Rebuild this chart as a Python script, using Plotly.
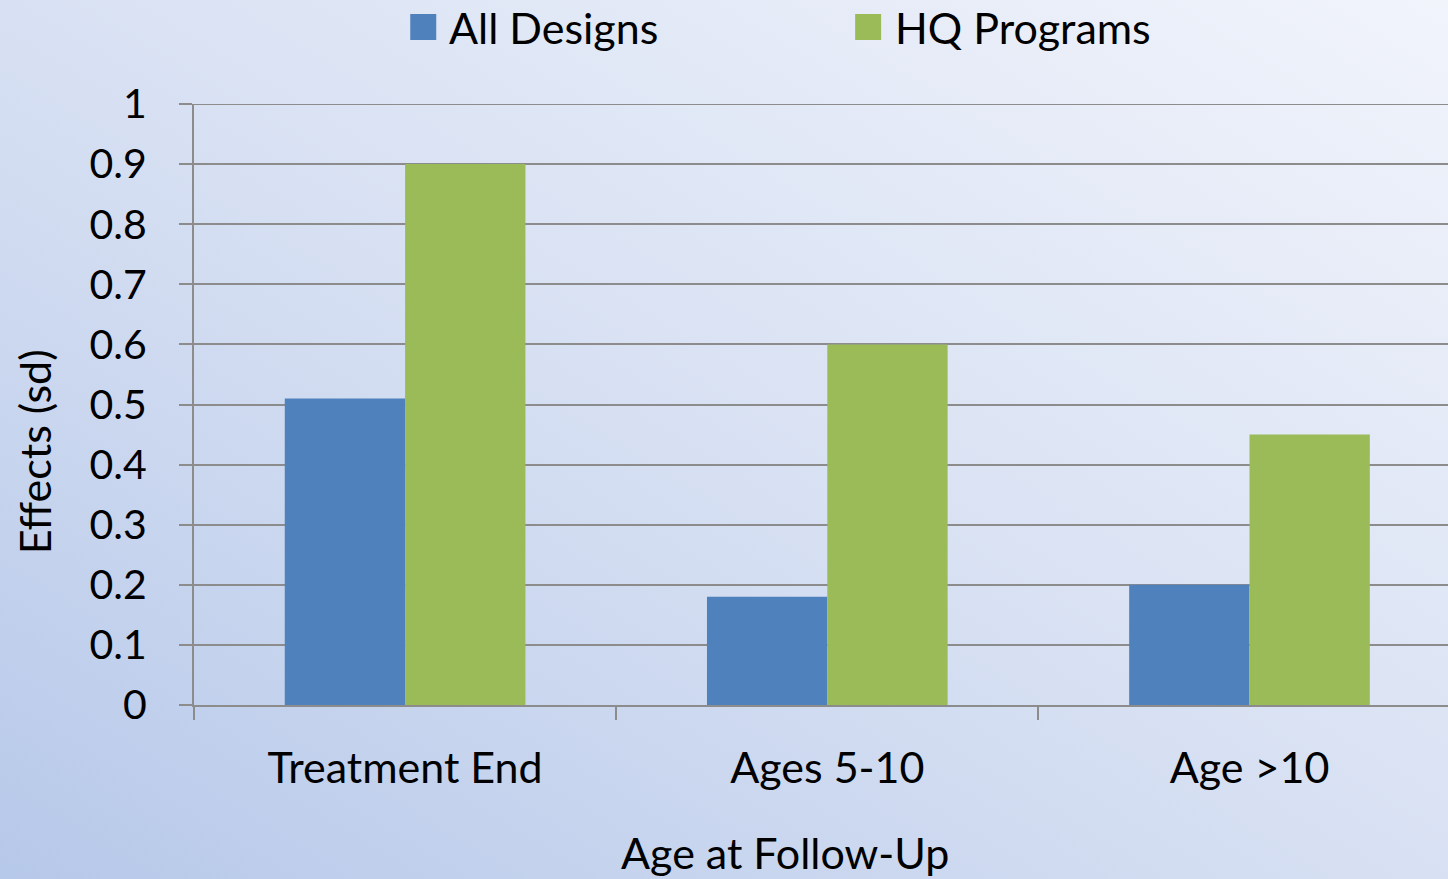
import base64
import plotly.graph_objects as go

# Data
categories = ["Treatment End", "Ages 5-10", "Age >10"]
all_designs = [0.51, 0.18, 0.20]
hq_programs = [0.90, 0.60, 0.45]
series_names = ["All Designs", "HQ Programs"]
series_colors = ["#4F81BD", "#9BBB59"]

W, H = 1448, 879
L, T, B = 193.7, 104, 174  # plot area margins in px
plot_w = W - L
plot_h = H - T - B
cat_w = 422.3  # width of one category slot in px

FONT = "Lato"
FS = 43
FS_TICK = 41
GRID = "#8C8C8C"


def px_x(x):
    return (x - L) / plot_w


def px_y(y):
    return (H - B - y) / plot_h


fig = go.Figure()
for name, vals, col in zip(series_names, [all_designs, hq_programs], series_colors):
    fig.add_trace(go.Bar(x=categories, y=vals, name=name, marker_color=col,
                         marker_line_width=0, showlegend=False))

# soft diagonal background wash
svg = (
    f"<svg xmlns='http://www.w3.org/2000/svg' width='{W}' height='{H}' preserveAspectRatio='none'>"
    "<defs><linearGradient id='g' x1='0' y1='1' x2='1' y2='0'>"
    "<stop offset='0' stop-color='#B6C8E9'/>"
    "<stop offset='0.5' stop-color='#D8E1F3'/>"
    "<stop offset='1' stop-color='#F1F4FB'/>"
    "</linearGradient></defs>"
    f"<rect width='{W}' height='{H}' fill='url(#g)'/></svg>"
)
src = "data:image/svg+xml;base64," + base64.b64encode(svg.encode()).decode()

txt = dict(family=FONT, size=FS, color="black")

shapes = [
    # gridline at the top of the value range
    dict(type="line", xref="paper", yref="y", x0=px_x(180), x1=1, y0=1, y1=1,
         line=dict(color=GRID, width=2)),
]
annotations = []

# legend drawn as boxes + labels across the top
legend_items = [(410, 447), (855, 893)]
for (sx, tx), name, col in zip(legend_items, series_names, series_colors):
    shapes.append(dict(type="rect", xref="paper", yref="paper",
                       x0=px_x(sx), x1=px_x(sx + 26), y0=px_y(40), y1=px_y(14),
                       fillcolor=col, line_width=0))
    annotations.append(dict(text=name, xref="paper", yref="paper",
                            x=px_x(tx), y=px_y(28), xanchor="left", yanchor="middle",
                            showarrow=False, font=txt))

# axis titles
annotations.append(dict(text="Age at Follow-Up", xref="paper", yref="paper",
                        x=px_x(785), y=px_y(852), xanchor="center", yanchor="middle",
                        showarrow=False, font=txt))
annotations.append(dict(text="Effects (sd)", xref="paper", yref="paper",
                        x=px_x(35), y=px_y(452), xanchor="center", yanchor="middle",
                        textangle=-90, showarrow=False, font=txt))

fig.update_layout(
    width=W, height=H,
    margin=dict(l=L, r=0, t=T, b=B, pad=0),
    paper_bgcolor="#C9D6EF",
    plot_bgcolor="rgba(0,0,0,0)",
    barmode="group", bargap=0.43, bargroupgap=0,
    font=txt,
    images=[dict(source=src, xref="paper", yref="paper",
                 x=px_x(-4), y=px_y(-4), sizex=(W + 8) / plot_w, sizey=(H + 8) / plot_h,
                 xanchor="left", yanchor="top", sizing="stretch", layer="below")],
    shapes=shapes,
    annotations=annotations,
    showlegend=False,
)

fig.update_xaxes(
    range=[-0.5, -0.5 + plot_w / cat_w],
    showline=True, linecolor=GRID, linewidth=2,
    ticks="outside", tickson="boundaries", ticklen=13, tickwidth=2, tickcolor=GRID,
    showgrid=False, ticklabelstandoff=24,
    tickfont=txt,
)
fig.update_yaxes(
    range=[0, 1], dtick=0.1, tick0=0,
    showline=True, linecolor=GRID, linewidth=2,
    ticks="outside", ticklen=13, tickwidth=2, tickcolor=GRID,
    showgrid=True, gridcolor=GRID, gridwidth=2,
    zeroline=False, ticklabelstandoff=24,
    tickformat="~g",
    tickfont=dict(family=FONT, size=FS_TICK, color="black"),
)

fig.write_html("out.html")
